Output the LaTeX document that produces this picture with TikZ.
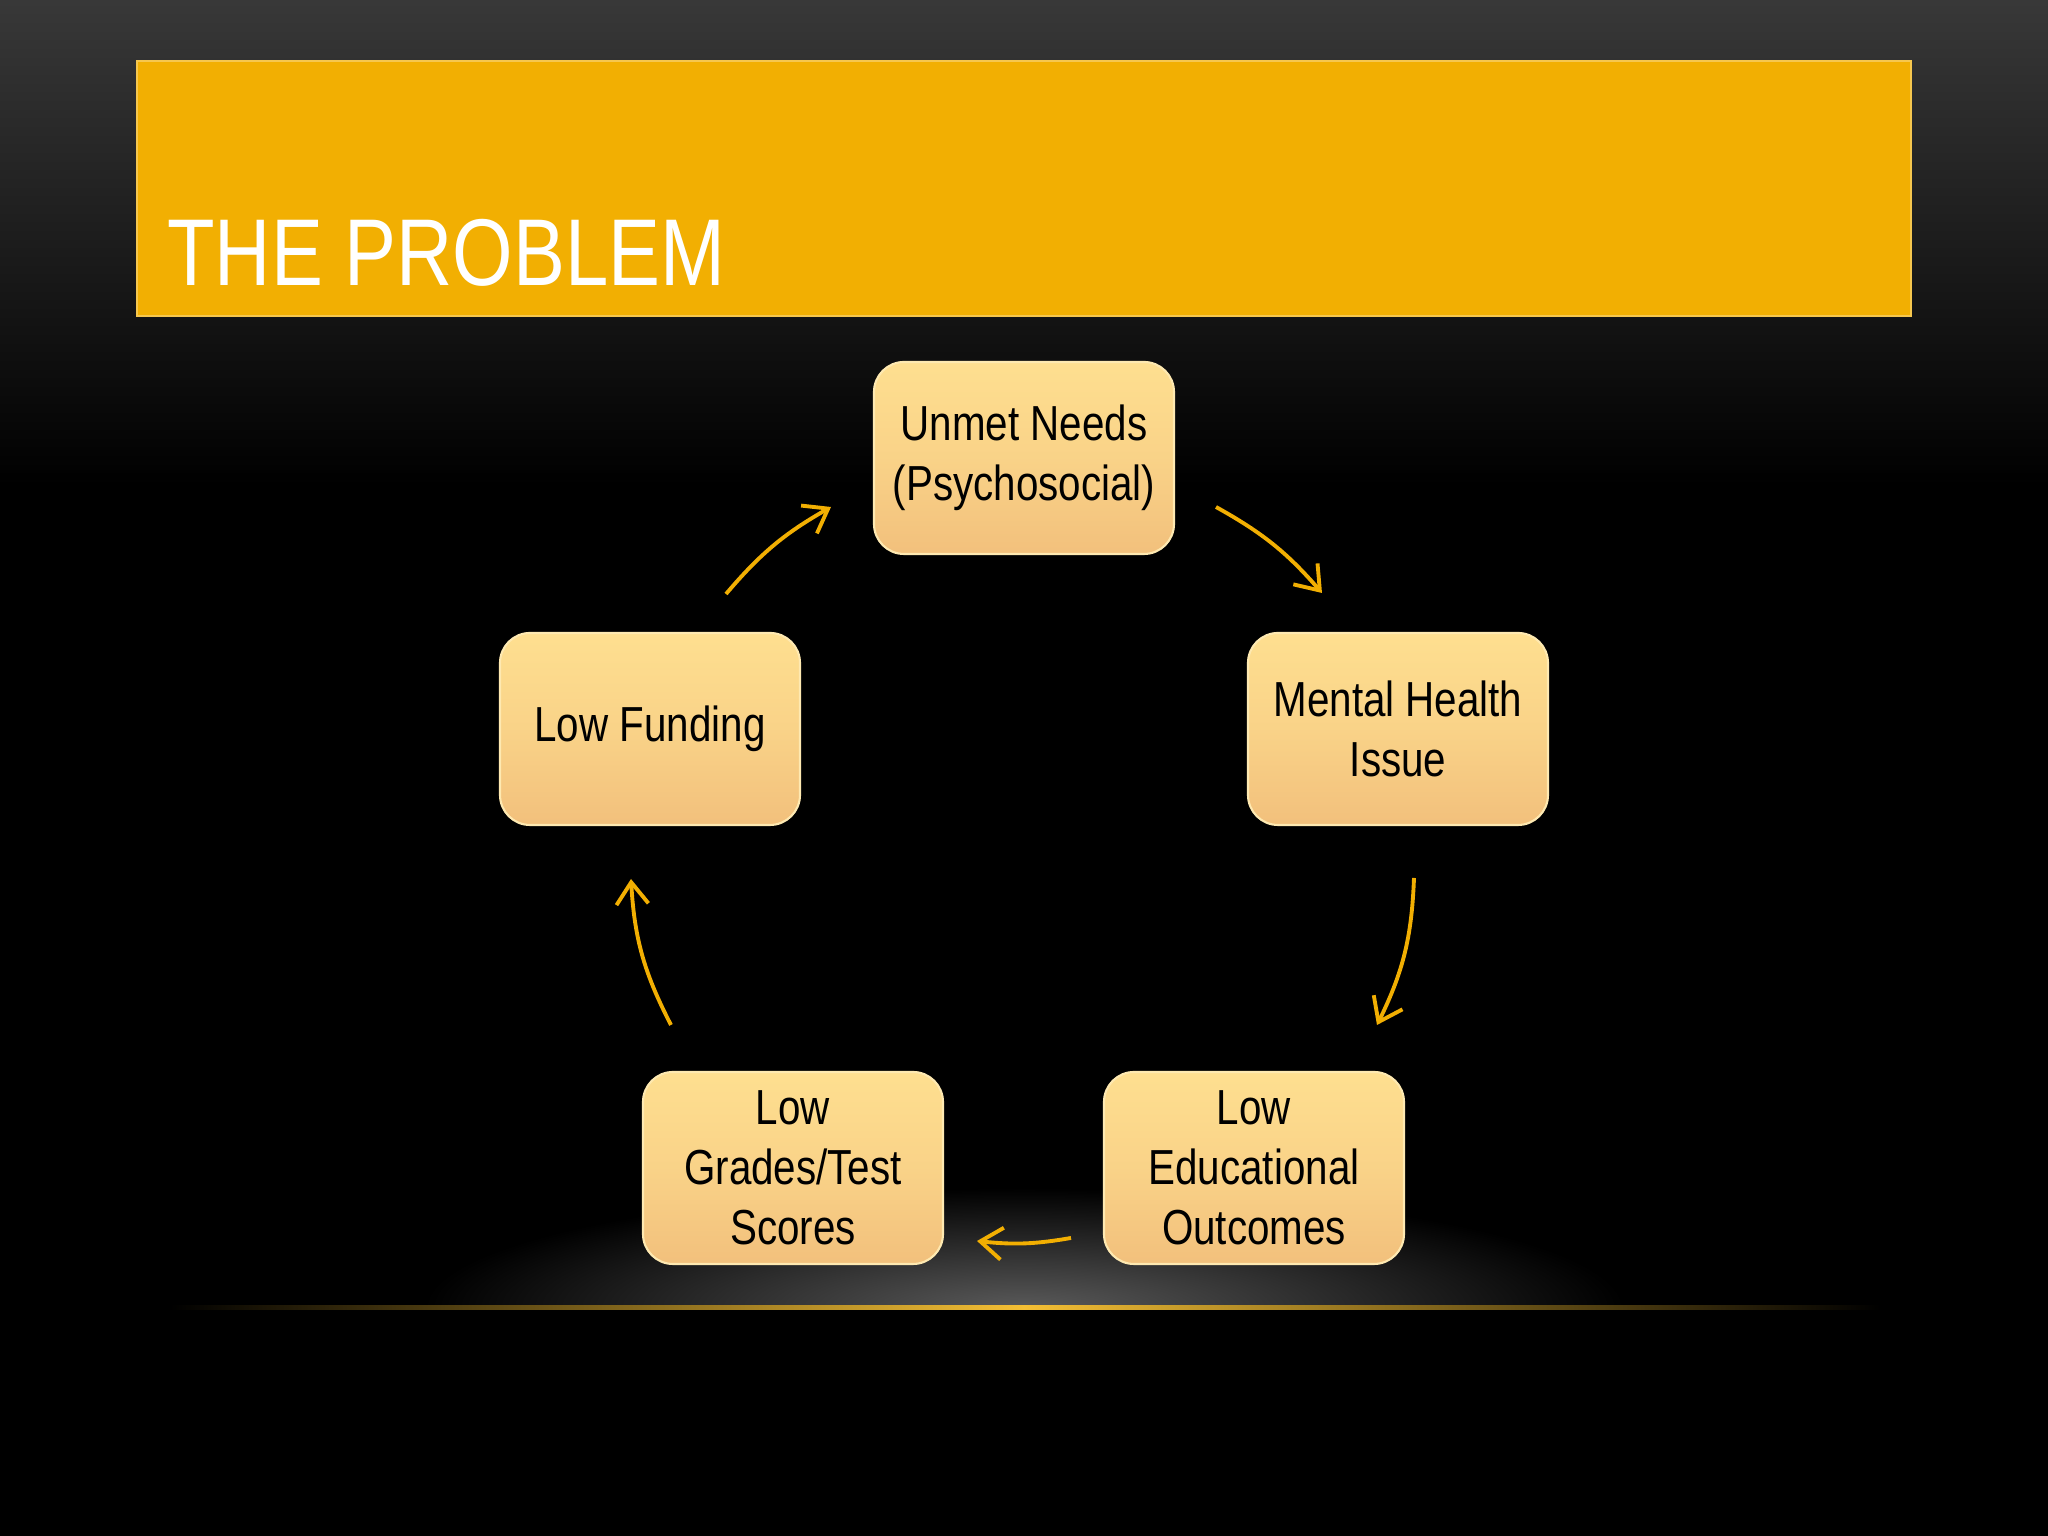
\documentclass[tikz,border=0pt]{standalone}
\usepackage{fontspec}
\setmainfont{Liberation Sans}[FakeStretch=0.82]
\usetikzlibrary{arrows.meta,shadings}
\definecolor{gold}{HTML}{F2AF02}
\definecolor{boxa}{HTML}{FEDF90}
\definecolor{boxb}{HTML}{F2C07C}
\tikzset{
 box/.style={rounded corners=0.3cm,minimum width=3cm,minimum height=1.92cm,
   top color=boxa,bottom color=boxb,middle color=boxa!60!boxb,draw=boxa!70!white,line width=0.6pt,
   align=center,font=\fontsize{14}{17}\selectfont,text=black,inner sep=2pt},
 conn/.style={draw=gold,line width=1.1pt,-{Straight Barb[length=2.2mm,width=3.2mm]}}
}
\begin{document}
\begin{tikzpicture}[x=1cm,y=1cm]
\useasboundingbox (0,0) rectangle (20.48,15.36);
\shade[top color=black!78,bottom color=black] (0,15.36) rectangle (20.48,10.5);
\fill[black] (0,0) rectangle (20.48,10.5);
\shade[inner color=white!35!black,outer color=black] (10.24,2.28) ellipse (6 and 1.2);
\fill[black] (0,0) rectangle (20.48,2.28);
\shade[left color=black,right color=gold!80!white] (1.7,2.26) rectangle (10.24,2.3);
\shade[right color=black,left color=gold!80!white] (10.24,2.26) rectangle (18.8,2.3);
\fill[gold] (1.37,12.20) rectangle (19.11,14.75);
\draw[gold!70!white,line width=0.6pt] (1.37,12.20) rectangle (19.11,14.75);
\node[anchor=base west,text=white,font=\fontsize{27}{30}\selectfont] (title) at (1.55,12.5) {THE PROBLEM};
\node[box] (un) at (10.24,10.78) {Unmet Needs\\(Psychosocial)};
\node[box] (mh) at (13.98,8.07) {Mental Health\\Issue};
\node[box] (le) at (12.54,3.68) {Low\\Educational\\Outcomes};
\node[box] (lg) at (7.93,3.68) {Low\\Grades/Test\\Scores};
\node[box] (lf) at (6.50,8.07) {Low Funding};
\coordinate (a1) at (12.16,10.29); \coordinate (b1) at (13.22,9.43);
\coordinate (a2) at (14.14,6.58); \coordinate (b2) at (13.77,5.11);
\coordinate (a3) at (10.71,2.98); \coordinate (b3) at (9.77,2.95);
\coordinate (a4) at (6.71,5.11); \coordinate (b4) at (6.31,6.57);
\coordinate (a5) at (7.26,9.42); \coordinate (b5) at (8.31,10.29);
\draw[conn] (a1) to[bend left=10] (b1);
\draw[conn] (a2) to[bend left=12] (b2);
\draw[conn] (a3) to[bend left=8] (b3);
\draw[conn] (a4) to[bend left=12] (b4);
\draw[conn] (a5) to[bend left=10] (b5);
\end{tikzpicture}
\end{document}
